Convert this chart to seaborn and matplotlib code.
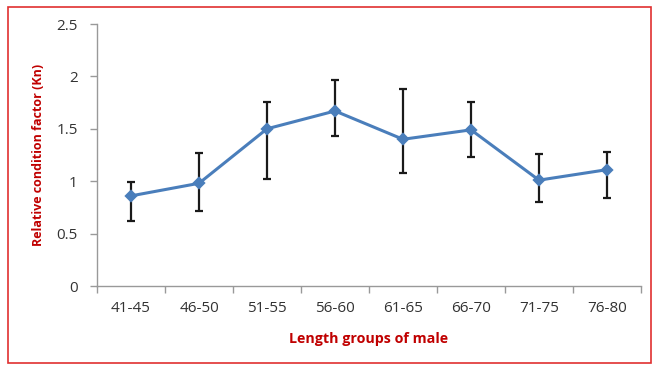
import matplotlib
matplotlib.use("Agg")
import matplotlib.pyplot as plt
import seaborn as sns
import numpy as np
import pandas as pd
from matplotlib.patches import Rectangle

groups = ["41-45", "46-50", "51-55", "56-60", "61-65", "66-70", "71-75", "76-80"]
kn_mean = [0.86, 0.98, 1.50, 1.67, 1.40, 1.49, 1.01, 1.11]
kn_upper = [0.99, 1.27, 1.76, 1.97, 1.88, 1.76, 1.26, 1.28]
kn_lower = [0.62, 0.72, 1.02, 1.43, 1.08, 1.23, 0.80, 0.84]

df = pd.DataFrame({"group": groups, "kn": kn_mean})

sns.set_theme(style="white")
plt.rcParams["font.family"] = ["Open Sans", "DejaVu Sans"]

fig = plt.figure(figsize=(6.56, 3.65), dpi=100)
ax = fig.add_axes([97/656, 1-286/365, (641-97)/656, (286-24)/365])

line_color = "#4A7EBB"
sns.pointplot(data=df, x="group", y="kn", color=line_color, markers="D",
              errorbar=None, ax=ax, linewidth=2.2, markersize=5)

x = np.arange(len(groups))
mean = np.array(kn_mean)
yerr = np.vstack([mean - np.array(kn_lower), np.array(kn_upper) - mean])
ax.errorbar(x, mean, yerr=yerr, fmt="none", ecolor="#1a1a1a", elinewidth=1.6,
            capsize=3, capthick=1.6, zorder=1)

ax.set_xlim(-0.5, len(groups) - 0.5)
ax.set_ylim(0, 2.5)
ax.set_yticks([0, 0.5, 1, 1.5, 2, 2.5])
ax.set_yticklabels(["0", "0.5", "1", "1.5", "2", "2.5"])
ax.set_xticks(x)
ax.set_xticklabels(groups)
ax.set_xticks(np.arange(-0.5, len(groups), 1.0), minor=True)
ax.tick_params(axis="x", which="major", length=0, pad=11, labelsize=11, labelcolor="#333333")
ax.tick_params(axis="x", which="minor", length=5, width=1, color="#999999", direction="out")
ax.tick_params(axis="y", which="major", length=5, width=1, color="#999999", direction="out",
               pad=9, labelsize=11, labelcolor="#333333")
ax.tick_params(axis="both", left=True, bottom=True)
ax.tick_params(axis="x", which="minor", bottom=True)

for side in ["top", "right"]:
    ax.spines[side].set_visible(False)
for side in ["left", "bottom"]:
    ax.spines[side].set_color("#999999")
    ax.spines[side].set_linewidth(1)

ax.set_xlabel("Length groups of male", color="#C00000", fontweight="bold", fontsize=10.3, labelpad=11)
ax.set_ylabel("Relative condition factor (Kn)", color="#C00000", fontweight="bold", fontsize=9, labelpad=8)

fig.patches.append(Rectangle((8/656, 2/365), (651-8)/656, (358-2)/365, transform=fig.transFigure,
                             fill=False, edgecolor="#E03030", linewidth=1.2))

fig.savefig("out.png", dpi=100)
